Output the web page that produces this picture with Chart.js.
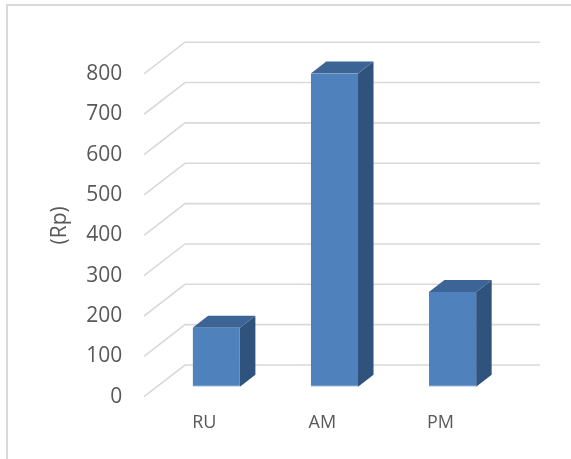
<!DOCTYPE html>
<html>
<head>
<meta charset="utf-8">
<script src="https://cdn.jsdelivr.net/npm/chart.js@4/dist/chart.umd.min.js"></script>
<style>
  html, body { margin: 0; padding: 0; background: #ffffff; }
  #wrap { position: relative; width: 571px; height: 459px; overflow: hidden; }
  #frame { position: absolute; left: 6px; top: 4px; right: -4px; bottom: -4px;
           border-left: 2px solid #d9d9d9; border-top: 2px solid #d9d9d9; pointer-events: none; }
  canvas { position: absolute; left: 0; top: 0; }
</style>
</head>
<body>
<div id="wrap">
  <canvas id="chart" width="571" height="459"></canvas>
  <div id="frame"></div>
</div>
<script>
// Cost per category, in rupiah
const categories = ['RU', 'AM', 'PM'];
const values = [146, 776, 235];
const tickValues = [0, 100, 200, 300, 400, 500, 600, 700, 800];
const axisTitle = '(Rp)';

// Pseudo-3D look: floor/wall depth and bar depth offsets
const FLOOR = { frontDx: -13.2, frontDy: 10, backDx: 27.8, backDy: -21.7, rightExt: 28.4 };
const BAR_DEPTH = { dx: 15.5, dy: -12 };
const COLORS = { front: '#4F81BD', top: '#3C6494', side: '#30537E', grid: '#d9d9d9', text: '#595959' };

const perspectivePlugin = {
  id: 'perspective',
  beforeDatasetsDraw(chart) {
    const { ctx, chartArea, scales: { y } } = chart;
    ctx.save();
    ctx.strokeStyle = COLORS.grid;
    ctx.lineWidth = 1.6;
    y.ticks.forEach(t => {
      const py = y.getPixelForValue(t.value);
      ctx.beginPath();
      ctx.moveTo(chartArea.left + FLOOR.frontDx, py + FLOOR.frontDy);
      ctx.lineTo(chartArea.left + FLOOR.backDx, py + FLOOR.backDy);
      ctx.lineTo(chartArea.right + FLOOR.rightExt, py + FLOOR.backDy);
      ctx.stroke();
    });
    ctx.restore();
  },
  afterDatasetsDraw(chart) {
    const { ctx } = chart;
    const meta = chart.getDatasetMeta(0);
    const { dx, dy } = BAR_DEPTH;
    ctx.save();
    meta.data.forEach(bar => {
      const { x, y, base, width } = bar.getProps(['x', 'y', 'base', 'width'], true);
      const l = x - width / 2, r = x + width / 2;
      // side face
      ctx.fillStyle = COLORS.side;
      ctx.beginPath();
      ctx.moveTo(r, y);
      ctx.lineTo(r + dx, y + dy);
      ctx.lineTo(r + dx, base + dy);
      ctx.lineTo(r, base);
      ctx.closePath();
      ctx.fill();
      // top face
      ctx.fillStyle = COLORS.top;
      ctx.beginPath();
      ctx.moveTo(l, y);
      ctx.lineTo(l + dx, y + dy);
      ctx.lineTo(r + dx, y + dy);
      ctx.lineTo(r, y);
      ctx.closePath();
      ctx.fill();
    });
    ctx.restore();
  }
};

new Chart(document.getElementById('chart'), {
  type: 'bar',
  data: {
    labels: categories,
    datasets: [{
      data: values,
      backgroundColor: COLORS.front,
      borderColor: '#8CB0DC',
      borderWidth: { bottom: 1, top: 0, left: 0, right: 0 },
      borderSkipped: false,
      categoryPercentage: 1,
      barPercentage: 0.4
    }]
  },
  options: {
    responsive: false,
    devicePixelRatio: 1,
    animation: false,
    layout: { padding: { left: 8, right: 59.4, top: 63.9, bottom: 0 } },
    plugins: { legend: { display: false }, tooltip: { enabled: false } },
    scales: {
      x: {
        grid: { display: false, drawTicks: false },
        border: { display: false },
        ticks: {
          color: COLORS.text,
          font: { family: 'Open Sans', size: 18 },
          padding: 25,
          labelOffset: -12,
          maxRotation: 0
        },
        afterFit(s) { s.height = 72.3; }
      },
      y: {
        min: 0,
        max: 800,
        grid: { display: false, drawTicks: false },
        border: { display: false },
        afterBuildTicks(s) { s.ticks = tickValues.map(v => ({ value: v })); },
        ticks: {
          color: COLORS.text,
          font: { family: 'Open Sans', size: 21 },
          padding: 35,
          labelOffset: 10
        },
        title: {
          display: true,
          text: axisTitle,
          color: COLORS.text,
          font: { family: 'Open Sans', size: 21 },
          padding: { top: 39.4, bottom: 0 }
        },
        afterFit(s) { s.width = 149.2; }
      }
    }
  },
  plugins: [perspectivePlugin]
});
</script>
</body>
</html>
